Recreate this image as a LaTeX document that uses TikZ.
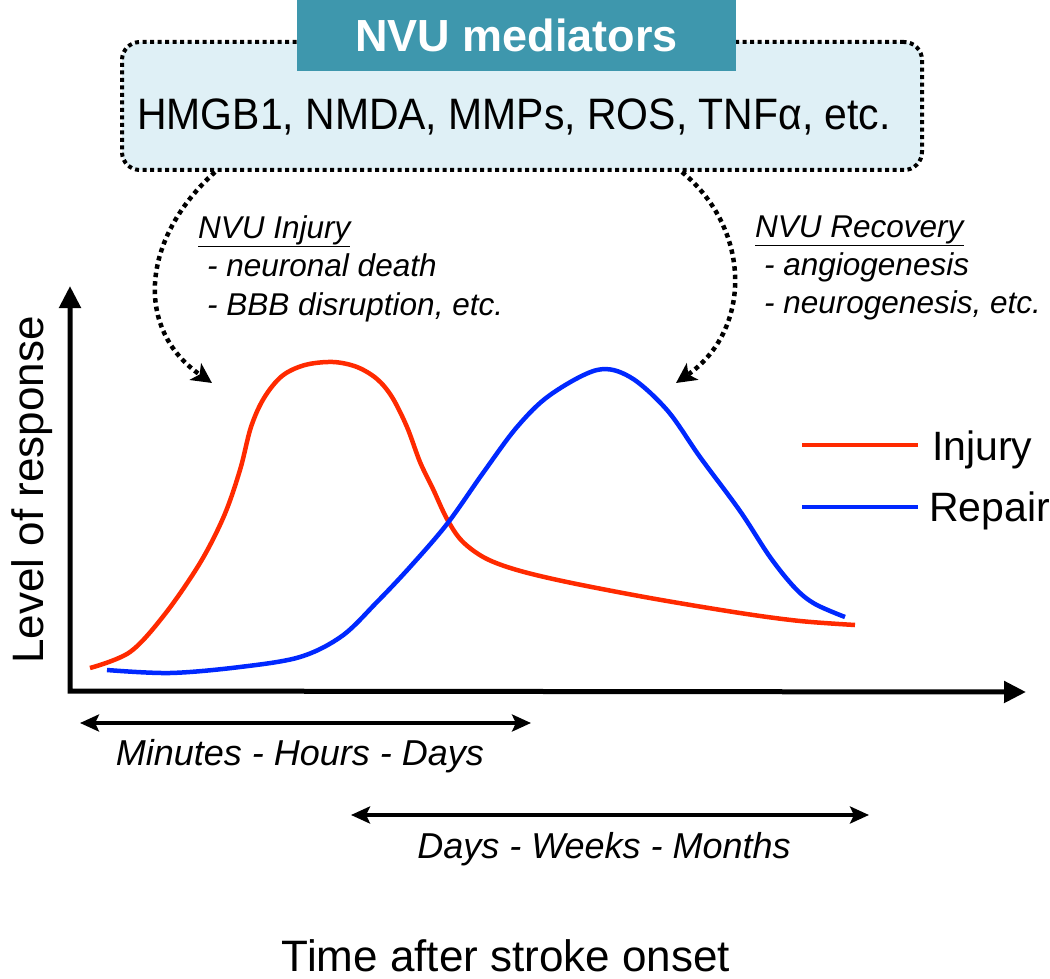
\documentclass[tikz,border=0pt]{standalone}
\usepackage{fontspec}
\setmainfont{Liberation Sans}
\usetikzlibrary{arrows.meta}
\definecolor{mteal}{HTML}{3E97AD}
\definecolor{lightbox}{HTML}{DFF0F6}
\definecolor{cred}{HTML}{FF2A00}
\definecolor{cblue}{HTML}{0028FF}
\begin{document}
\begin{tikzpicture}[x=1pt,y=-1pt,
  big/.style={font=\fontsize{44}{50}\selectfont, inner sep=0pt},
  lab/.style={font=\fontsize{31.5}{38}\selectfont\itshape, inner sep=0pt, anchor=base west},
  tlab/.style={font=\fontsize{36}{42}\selectfont\itshape, inner sep=0pt, anchor=base},
  dotline/.style={line width=4pt, dash pattern=on 4pt off 3.5pt},
  dotarrow/.style={line width=4.5pt, dash pattern=on 4.5pt off 4pt, -{Stealth[length=20pt,width=20pt,inset=5pt]}},
  axis/.style={line width=5pt, line join=miter, {Triangle[length=22pt,width=21pt]}-{Triangle[length=22pt,width=21pt]}},
  spanarrow/.style={line width=4pt, {Stealth[length=19pt,width=17pt,inset=4pt]}-{Stealth[length=19pt,width=17pt,inset=4pt]}},
  curve/.style={line width=4.5pt, line join=round}
]
\useasboundingbox (0,0) rectangle (1050,979);

% mediators box
\node[draw=black, fill=lightbox, dotline, rounded corners=18pt,
      minimum width=800pt, minimum height=128pt, inner sep=0pt] (box) at (522,106) {};
\node[fill=mteal, minimum width=439pt, minimum height=71pt, inner sep=0pt,
      text=white, font=\fontsize{45}{50}\selectfont\bfseries] (title) at (516.5,35.5) {NVU mediators};
\node[big, anchor=base] (med) at (514,130) {\scalebox{0.93}[1]{HMGB1, NMDA, MMPs, ROS, TNFα, etc.}};

% dotted arrows
\coordinate (ls) at (215,172);
\coordinate (lt) at (212,383);
\coordinate (rs) at (682,172);
\coordinate (rt) at (676,383);
\draw[dotarrow] (ls) .. controls (140,240) and (135,330) .. (lt);
\draw[dotarrow] (rs) .. controls (752,230) and (752,330) .. (rt);

% labels
\node[lab] (inj) at (198,238) {\underline{NVU Injury}};
\node[lab] (inj1) at (207,276) {- neuronal death};
\node[lab] (inj2) at (207,315) {- BBB disruption, etc.};
\node[lab] (rec) at (755,237) {\underline{NVU Recovery}};
\node[lab] (rec1) at (764,275) {- angiogenesis};
\node[lab] (rec2) at (764,313) {- neurogenesis, etc.};

% axes
\coordinate (ytop) at (70,286);
\coordinate (O) at (70,691);
\coordinate (xend) at (1026,692);
\draw[axis] (ytop) -- (O) -- (xend);
\node[big, rotate=90, anchor=base] (ylab) at (43,490) {Level of response};

% curves
\draw[curve, cred] plot[smooth, tension=0.55] coordinates {
 (90,668) (130,652) (165,614) (200,563) (224,516) (240,470) (251,427)
 (264,398) (282,376) (305,365) (333,362) (357,367) (377,379) (392,397)
 (407,427) (420,462) (433,489) (447,519) (462,541) (485,558) (517,570)
 (567,582) (650,598) (740,613) (800,621) (855,625)};
\draw[curve, cblue] plot[smooth, tension=0.55] coordinates {
 (107,670) (170,673) (240,667) (300,657) (342,636) (377,602) (410,567)
 (447,524) (483,473) (517,427) (550,395) (597,370) (630,377) (667,410)
 (700,457) (740,511) (770,557) (795,588) (815,604) (845,617)};

% legend
\node[big, anchor=base west, font=\fontsize{41}{48}\selectfont] (linj) at (932,460) {Injury};
\node[big, anchor=base west, font=\fontsize{41}{48}\selectfont] (lrep) at (929,521) {Repair};
\coordinate (li) at (802,445);
\coordinate (lr) at (802,507);
\draw[curve, cred] (li) -- (li -| 918,0);
\draw[curve, cblue] (lr) -- (lr -| 918,0);

% time spans
\coordinate (a1) at (80,723);
\coordinate (a2) at (531,723);
\coordinate (b1) at (351,815);
\coordinate (b2) at (869,815);
\draw[spanarrow] (a1) -- (a2);
\draw[spanarrow] (b1) -- (b2);
\node[tlab] (t1) at (300,765) {Minutes - Hours - Days};
\node[tlab] (t2) at (604,858) {Days - Weeks - Months};

\node[big, anchor=base] (xlab) at (506,971) {Time after stroke onset};
\end{tikzpicture}
\end{document}
